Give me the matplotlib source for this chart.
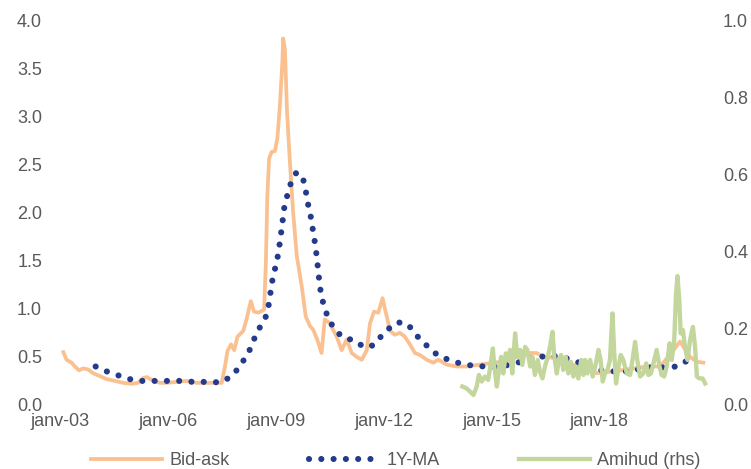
import numpy as np
import matplotlib
matplotlib.use('Agg')
import matplotlib.pyplot as plt

plt.rcParams['font.family'] = ['Liberation Sans', 'DejaVu Sans']

# Bid-ask spread (lhs), decimal years
bidask_t = [2003.08, 2003.17, 2003.31, 2003.40, 2003.52, 2003.63, 2003.77, 2003.91,
            2004.10, 2004.28, 2004.52, 2004.75, 2004.98, 2005.16, 2005.30, 2005.41,
            2005.54, 2005.77, 2005.96, 2006.23, 2006.51, 2006.79, 2007.07, 2007.49,
            2007.58, 2007.65, 2007.75, 2007.84, 2007.93, 2008.09, 2008.18, 2008.30,
            2008.39, 2008.51, 2008.67, 2008.72, 2008.76, 2008.81, 2008.88, 2008.97,
            2009.04, 2009.11, 2009.18, 2009.20, 2009.25, 2009.31, 2009.39, 2009.48,
            2009.58, 2009.72, 2009.83, 2009.95, 2010.04, 2010.15, 2010.27, 2010.36,
            2010.50, 2010.69, 2010.83, 2010.97, 2011.11, 2011.25, 2011.39, 2011.53,
            2011.62, 2011.73, 2011.85, 2011.97, 2012.06, 2012.18, 2012.31, 2012.45,
            2012.59, 2012.73, 2012.87, 2013.01, 2013.20, 2013.38, 2013.52, 2013.75,
            2014.03, 2014.31, 2014.68, 2015.10, 2015.52, 2015.98, 2016.26, 2016.45,
            2016.72, 2017.10, 2017.38, 2017.93, 2018.40, 2018.95, 2019.33, 2019.70,
            2020.07, 2020.25, 2020.53, 2020.72, 2020.90]
bidask = [0.55, 0.47, 0.44, 0.40, 0.36, 0.38, 0.37, 0.33,
          0.30, 0.27, 0.25, 0.23, 0.22, 0.23, 0.28, 0.29,
          0.26, 0.23, 0.23, 0.24, 0.25, 0.23, 0.23, 0.23,
          0.40, 0.56, 0.63, 0.57, 0.71, 0.77, 0.89, 1.08,
          0.97, 0.96, 0.99, 1.48, 2.17, 2.56, 2.63, 2.64,
          2.77, 3.11, 3.57, 3.81, 3.70, 3.04, 2.52, 2.00,
          1.55, 1.23, 0.92, 0.82, 0.78, 0.68, 0.54, 0.89,
          0.85, 0.71, 0.57, 0.68, 0.54, 0.50, 0.47, 0.57,
          0.85, 0.97, 0.96, 1.11, 0.96, 0.77, 0.73, 0.75,
          0.71, 0.63, 0.54, 0.52, 0.47, 0.44, 0.47, 0.42,
          0.40, 0.40, 0.42, 0.44, 0.47, 0.54, 0.54, 0.50,
          0.49, 0.45, 0.40, 0.33, 0.35, 0.38, 0.40, 0.40,
          0.57, 0.66, 0.50, 0.45, 0.44]

# 1-year moving average of bid-ask (lhs)
ma_t = [2003.98, 2004.28, 2004.59, 2004.91, 2005.23, 2005.60, 2005.97, 2006.35,
        2006.70, 2007.08, 2007.46, 2007.73, 2007.93, 2008.11, 2008.28, 2008.42,
        2008.57, 2008.72, 2008.81, 2008.86, 2008.92, 2009.02, 2009.08, 2009.13,
        2009.18, 2009.22, 2009.31, 2009.41, 2009.56, 2009.73, 2009.82, 2009.88,
        2009.96, 2010.02, 2010.08, 2010.13, 2010.17, 2010.21, 2010.26, 2010.36,
        2010.48, 2010.66, 2010.87, 2011.20, 2011.45, 2011.71, 2011.92, 2012.13,
        2012.39, 2012.67, 2012.86, 2013.06, 2013.29, 2013.52, 2013.81, 2014.10,
        2014.45, 2014.81, 2015.18, 2015.66, 2016.12, 2016.46, 2016.82, 2017.14,
        2017.44, 2017.93, 2018.40, 2018.77, 2019.42, 2019.79, 2020.16, 2020.39,
        2020.67]
ma = [0.40, 0.35, 0.31, 0.27, 0.25, 0.25, 0.25, 0.25,
      0.24, 0.24, 0.235, 0.29, 0.37, 0.47, 0.58, 0.71,
      0.82, 0.92, 1.06, 1.20, 1.34, 1.48, 1.61, 1.75,
      1.89, 2.03, 2.17, 2.30, 2.41, 2.39, 2.25, 2.11,
      1.98, 1.84, 1.70, 1.56, 1.42, 1.28, 1.14, 1.00,
      0.88, 0.775, 0.70, 0.67, 0.60, 0.62, 0.71, 0.79,
      0.86, 0.84, 0.75, 0.66, 0.59, 0.51, 0.47, 0.435,
      0.41, 0.40, 0.395, 0.43, 0.49, 0.505, 0.51, 0.48,
      0.44, 0.365, 0.35, 0.35, 0.39, 0.39, 0.40, 0.45,
      0.47]

# Amihud illiquidity (rhs)
amihud_t = [2014.19, 2014.31, 2014.40, 2014.50, 2014.59, 2014.65, 2014.73, 2014.82,
            2014.91, 2014.98, 2015.04, 2015.08, 2015.15, 2015.21, 2015.27, 2015.33,
            2015.40, 2015.45, 2015.52, 2015.58, 2015.66, 2015.72, 2015.80, 2015.86,
            2015.94, 2016.00, 2016.08, 2016.14, 2016.21, 2016.29, 2016.35, 2016.42,
            2016.49, 2016.57, 2016.63, 2016.70, 2016.75, 2016.82, 2016.88, 2016.94,
            2017.00, 2017.07, 2017.14, 2017.21, 2017.28, 2017.35, 2017.42, 2017.50,
            2017.56, 2017.61, 2017.67, 2017.75, 2017.82, 2017.89, 2017.98, 2018.04,
            2018.10, 2018.16, 2018.23, 2018.30, 2018.37, 2018.42, 2018.47, 2018.54,
            2018.60, 2018.67, 2018.77, 2018.86, 2018.94, 2019.00, 2019.06, 2019.14,
            2019.23, 2019.31, 2019.37, 2019.44, 2019.51, 2019.60, 2019.68, 2019.74,
            2019.81, 2019.88, 2019.96, 2020.02, 2020.09, 2020.14, 2020.18, 2020.23,
            2020.27, 2020.33, 2020.39, 2020.46, 2020.53, 2020.61, 2020.67, 2020.72,
            2020.79, 2020.88, 2020.95]
amihud = [0.048, 0.043, 0.035, 0.026, 0.048, 0.078, 0.061, 0.074,
          0.065, 0.108, 0.147, 0.100, 0.048, 0.091, 0.125, 0.082,
          0.134, 0.121, 0.143, 0.082, 0.186, 0.125, 0.143, 0.104,
          0.151, 0.143, 0.100, 0.125, 0.078, 0.117, 0.087, 0.069,
          0.100, 0.125, 0.151, 0.190, 0.125, 0.082, 0.117, 0.130,
          0.091, 0.125, 0.082, 0.112, 0.074, 0.100, 0.069, 0.117,
          0.078, 0.117, 0.082, 0.117, 0.074, 0.100, 0.143, 0.117,
          0.061, 0.082, 0.091, 0.117, 0.238, 0.134, 0.056, 0.100,
          0.130, 0.117, 0.082, 0.078, 0.125, 0.164, 0.117, 0.074,
          0.082, 0.108, 0.078, 0.082, 0.108, 0.143, 0.100, 0.078,
          0.074, 0.100, 0.160, 0.117, 0.169, 0.290, 0.335, 0.273,
          0.186, 0.195, 0.151, 0.117, 0.169, 0.203, 0.151, 0.074,
          0.069, 0.069, 0.056]

tick_years = [2003, 2006, 2009, 2012, 2015, 2018]
tick_labels = ['janv-03', 'janv-06', 'janv-09', 'janv-12', 'janv-15', 'janv-18']

grey = '#595959'
orange = '#FAC090'
navy = '#243A8A'
green = '#C3D69B'

fig = plt.figure(figsize=(7.51, 4.69), dpi=100)
ax1 = fig.add_axes([0.069, 0.1365, 0.879, 0.8205])

l1, = ax1.plot(bidask_t, bidask, color=orange, lw=2.7, label='Bid-ask',
               solid_joinstyle='round', zorder=2)
l2, = ax1.plot(ma_t, ma, color=navy, lw=4.4, linestyle=(0, (0.01, 2.0)),
               dash_capstyle='round', label='1Y-MA', zorder=3)

ax1.set_xlim(2002.76, 2021.14)
ax1.set_ylim(0, 4)
ax1.set_yticks(np.arange(0, 4.01, 0.5))
ax1.set_yticklabels(['%.1f' % v for v in np.arange(0, 4.01, 0.5)])
ax1.set_xticks(tick_years)
ax1.set_xticklabels(tick_labels)

ax2 = ax1.twinx()
l3, = ax2.plot(amihud_t, amihud, color=green, lw=3.1, label='Amihud (rhs)',
               solid_joinstyle='round')
ax2.set_ylim(0, 1)
ax2.set_yticks(np.arange(0, 1.01, 0.2))
ax2.set_yticklabels(['%.1f' % v for v in np.arange(0, 1.01, 0.2)])

for ax in (ax1, ax2):
    for s in ax.spines.values():
        s.set_visible(False)
    ax.tick_params(length=0, labelsize=13, labelcolor=grey)
ax1.tick_params(axis='y', pad=7)
ax1.tick_params(axis='x', pad=6)
ax2.tick_params(axis='y', pad=8)

fig.legend(handles=[l1, l2, l3], loc='center', bbox_to_anchor=(0.527, 0.018),
           ncol=3, frameon=False, fontsize=13, labelcolor=grey,
           handlelength=3.9, handletextpad=0.4, columnspacing=4.4)

fig.savefig('out.png', dpi=100)
